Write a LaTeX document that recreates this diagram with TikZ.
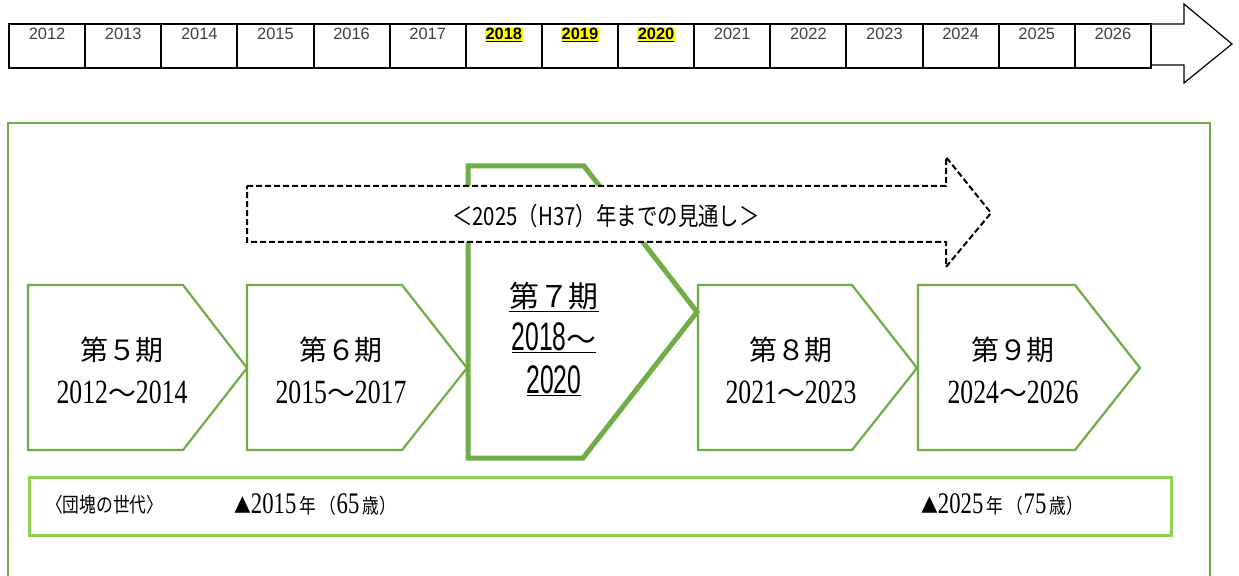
\documentclass[tikz,border=0pt]{standalone}
\usepackage{fontspec}
\setmainfont{Liberation Serif}
\newfontfamily\jp{Noto Sans CJK JP}
\newfontfamily\jpn[FakeStretch=0.82]{Noto Sans CJK JP}
\newfontfamily\sernum[FakeStretch=0.76]{Liberation Serif}
\newfontfamily\sansnum[FakeStretch=0.62]{Liberation Sans}
\newfontfamily\arial{Liberation Sans}
\definecolor{gframe}{HTML}{70AD47}
\definecolor{gstrip}{HTML}{92D050}
\definecolor{hiyellow}{HTML}{FFFF00}
\tikzset{
  yearcell/.style={draw=black, line width=2bp, minimum width=76.13bp, minimum height=44bp, inner sep=0pt, outer sep=0pt},
  yearlab/.style={anchor=north, inner sep=0.6bp, font=\arial\fontsize{16.5}{16.5}\selectfont, text=black!75},
  hilab/.style={yearlab, fill=hiyellow, text=black, font=\arial\bfseries\fontsize{16.5}{16.5}\selectfont},
  chev/.style={draw=gframe, line width=2.2bp, fill=white},
  chevbig/.style={draw=gframe, line width=5bp, fill=white, line join=miter},
  chevtext/.style={align=center, inner sep=0pt, font=\fontsize{28}{43}\selectfont},
  dasharrow/.style={draw=black, line width=2bp, dash pattern=on 6bp off 3bp, fill=white},
  striptext/.style={anchor=west, inner sep=0pt, font=\jpn\fontsize{20.5}{20.5}\selectfont}
}
\newcommand\kj[1]{{\jp\fontsize{28}{43}\selectfont #1}}
\newcommand\nm[1]{{\sernum\fontsize{34}{43}\selectfont #1}}
\newcommand\kb[1]{{\jp\fontsize{30}{43}\selectfont #1}}
\newcommand\nb[1]{{\sansnum\fontsize{40}{43}\selectfont #1}}
\newcommand\sn[1]{{\sernum\fontsize{30}{20}\selectfont #1}}
\begin{document}
\begin{tikzpicture}[x=1bp, y=-1bp]
\useasboundingbox (0,0) rectangle (1239,576);
% ---- top timeline ----
\foreach \i/\yr in {0/2012,1/2013,2/2014,3/2015,4/2016,5/2017,9/2021,10/2022,11/2023,12/2024,13/2025,14/2026}{
  \node[yearcell] (c\i) at ({9+38.065+76.13*\i},46) {};
  \node[yearlab] (t\i) at ([yshift=-3bp]c\i.north) {\yr};
}
\foreach \i/\yr in {6/2018,7/2019,8/2020}{
  \node[yearcell] (c\i) at ({9+38.065+76.13*\i},46) {};
  \node[hilab] (t\i) at ([yshift=-3bp]c\i.north) {\underline{\yr}};
}
\draw[line width=1.2bp, line join=miter] (1151,24) -- (1184,24) -- (1184,4) -- (1232,44) -- (1184,83) -- (1184,65) -- (1151,65);
% ---- main frame ----
\draw[gframe, line width=2.2bp] (8,123) rectangle (1210,600);
% ---- chevrons ----
\draw[chev] (28,285) -- (183,285) -- (247,368) -- (183,450) -- (28,450) -- cycle;
\draw[chev] (247,285) -- (402,285) -- (467,368) -- (402,450) -- (247,450) -- cycle;
\draw[chev] (698,285) -- (852,285) -- (917,368) -- (852,450) -- (698,450) -- cycle;
\draw[chev] (918,285) -- (1075,285) -- (1140,368) -- (1075,450) -- (918,450) -- cycle;
\draw[chevbig] (468,166) -- (584,166) -- (697,312) -- (583,458) -- (468,458) -- cycle;
\node[chevtext] (p5) at (122,370) {\kj{第５期}\\\nm{2012}\kj{～}\nm{2014}};
\node[chevtext] (p6) at (341,370) {\kj{第６期}\\\nm{2015}\kj{～}\nm{2017}};
\node[chevtext] (p8) at (791,370) {\kj{第８期}\\\nm{2021}\kj{～}\nm{2023}};
\node[chevtext] (p9) at (1013,370) {\kj{第９期}\\\nm{2024}\kj{～}\nm{2026}};
\node[chevtext] (p7) at (554,339) {\underline{\kb{第７期}}\\\underline{\nb{2018}\kb{～}}\\\underline{\nb{2020}}};
% ---- dashed arrow ----
\draw[dasharrow] (247,186) -- (946,186) -- (946,157) -- (991,213) -- (946,267) -- (946,242) -- (247,242) -- cycle;
\node[inner sep=0pt] (outlook) at (606,216) {\jpn\fontsize{25}{25}\selectfont ＜2025（H37）年までの見通し＞};
% ---- bottom strip ----
\draw[gstrip, line width=3bp] (29,477) rectangle (1171,535);
\node[striptext] (dankai) at (46,505) {〈団塊の世代〉};
\node[striptext] (y2015) at (234,505) {▲\sn{2015}\,年\,（\sn{65}\,歳）};
\node[striptext] (y2025) at (921,505) {▲\sn{2025}\,年\,（\sn{75}\,歳）};
\end{tikzpicture}
\end{document}
